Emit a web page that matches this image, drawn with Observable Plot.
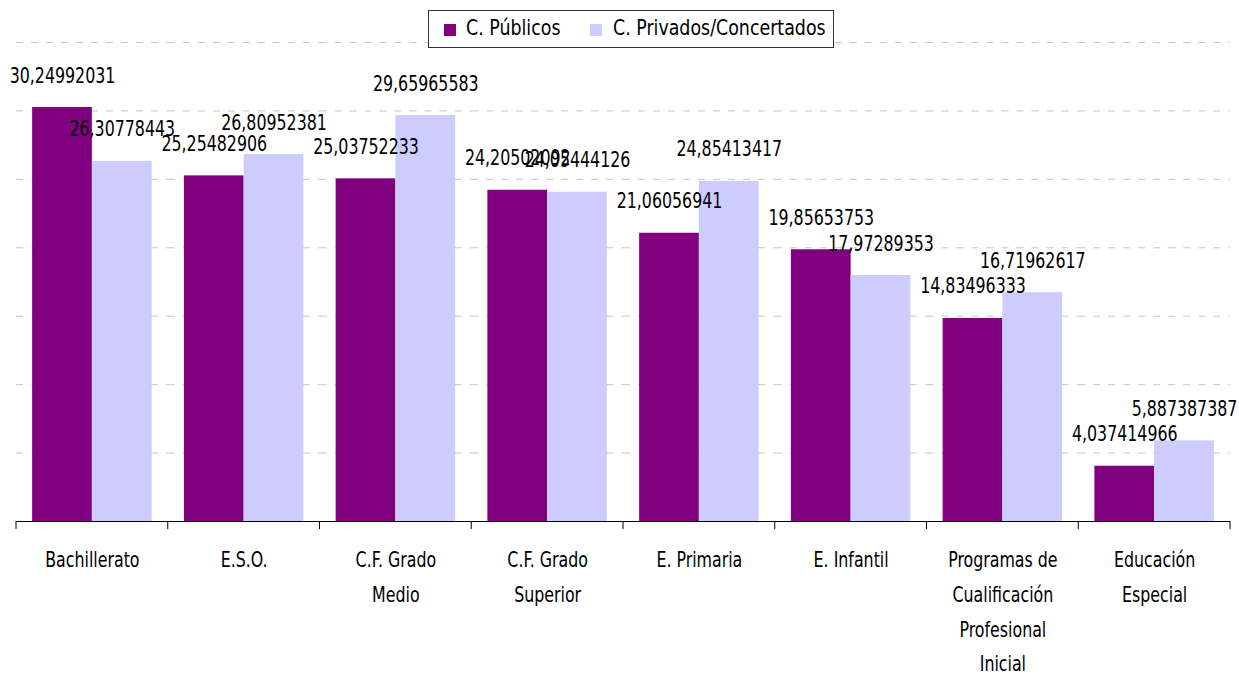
<!DOCTYPE html>
<html>
<head>
<meta charset="utf-8">
<script src="https://cdn.jsdelivr.net/npm/d3@7"></script>
<script src="https://cdn.jsdelivr.net/npm/@observablehq/plot@0.6"></script>
<style>
  html, body { margin: 0; padding: 0; background: #fff; }
  #wrap { position: relative; width: 1239px; height: 678px; font-family: "DejaVu Sans Condensed", "DejaVu Sans", sans-serif; }
  #legend { position: absolute; left: 428px; top: 10px; width: 404px; height: 36px; border: 1px solid #333; background: #fff;
            font-size: 22px; color: #000; box-sizing: content-box; white-space: nowrap; }
  .sw { position: absolute; top: 13px; width: 12px; height: 12px; }
  .lt { position: absolute; top: 4px; line-height: 26px; transform: scaleX(0.88); transform-origin: 0 50%; }
</style>
</head>
<body>
<div id="wrap"></div>
<script>
const categories = ["Bachillerato", "E.S.O.", "C.F. Grado Medio", "C.F. Grado Superior", "E. Primaria", "E. Infantil", "Programas de Cualificación Profesional Inicial", "Educación Especial"];
const categoryLabels = ["Bachillerato", "E.S.O.", "C.F. Grado\nMedio", "C.F. Grado\nSuperior", "E. Primaria", "E. Infantil", "Programas de\nCualificación\nProfesional\nInicial", "Educación\nEspecial"];
const series = ["C. Públicos", "C. Privados/Concertados"];
const publicos = [30.24992031, 25.25482906, 25.03752233, 24.20502092, 21.06056941, 19.85653753, 14.83496333, 4.037414966];
const privados = [26.30778443, 26.80952381, 29.65965583, 24.05444126, 24.85413417, 17.97289353, 16.71962617, 5.887387387];
const gridValues = [5, 10, 15, 20, 25, 30, 35];
const colors = ["#800080", "#CCCCFF"];

const rows = [];
categories.forEach((c, i) => {
  rows.push({cat: c, series: series[0], value: publicos[i]});
  rows.push({cat: c, series: series[1], value: privados[i]});
});
const labelOf = new Map(categories.map((c, i) => [c, categoryLabels[i]]));
const fmt = v => String(v).replace(".", ",");
const FONT = '"DejaVu Sans Condensed", "DejaVu Sans", sans-serif';
const NARROW = 0.8; // horizontal squeeze to mimic a narrow face

const plot = Plot.plot({
  width: 1239,
  height: 678,
  marginTop: 42,
  marginBottom: 157,
  marginLeft: 16,
  marginRight: 9,
  style: {fontFamily: FONT, fontSize: "22px", background: "#fff", color: "#000"},
  fx: {domain: categories, paddingInner: 0, paddingOuter: 0, round: false, axis: null, label: null},
  x: {domain: series, paddingInner: 0, paddingOuter: 0.27, round: false, axis: null},
  y: {domain: [0, 35], axis: null},
  color: {domain: series, range: colors},
  marks: [
    Plot.ruleY(gridValues, {stroke: "#c6c6c6", strokeWidth: 1, strokeDasharray: "7,8"}),
    Plot.barY(rows, {fx: "cat", x: "series", y: "value", fill: "series"}),
    Plot.ruleY([0], {stroke: "#000", strokeWidth: 1}),
    Plot.text(rows, {fx: "cat", x: "series", y: "value", text: d => fmt(d.value), lineAnchor: "bottom", dy: -25, fill: "#000", fontSize: 22}),
    Plot.text(categories, {fx: d => d, text: d => labelOf.get(d), frameAnchor: "bottom", lineAnchor: "top", dy: 21, lineHeight: 1.58, fill: "#000", fontSize: 22})
  ]
});

// squeeze text glyphs horizontally around their anchor
d3.select(plot).selectAll("text").each(function() {
  const t = this.getAttribute("transform") || "";
  this.setAttribute("transform", (t + ` scale(${NARROW},1)`).trim());
});

// boundary ticks below the axis, positioned through the fx scale
const fxs = plot.scale("fx");
const ys = plot.scale("y");
const y0 = ys.apply(0);
const bounds = categories.map(c => fxs.apply(c));
bounds.push(fxs.apply(categories[categories.length - 1]) + fxs.bandwidth);
d3.select(plot).append("g").selectAll("line").data(bounds).join("line")
  .attr("x1", d => d).attr("x2", d => d)
  .attr("y1", y0).attr("y2", y0 + 8)
  .attr("stroke", "#000").attr("stroke-width", 1);

const wrap = document.getElementById("wrap");
wrap.appendChild(plot);

const legend = document.createElement("div");
legend.id = "legend";
const swLeft = [15, 161], txLeft = [37, 184];
legend.innerHTML = series.map((s, i) =>
  `<span class="sw" style="left:${swLeft[i]}px;background:${colors[i]}"></span><span class="lt" style="left:${txLeft[i]}px">${s}</span>`).join("");
wrap.appendChild(legend);
</script>
</body>
</html>
